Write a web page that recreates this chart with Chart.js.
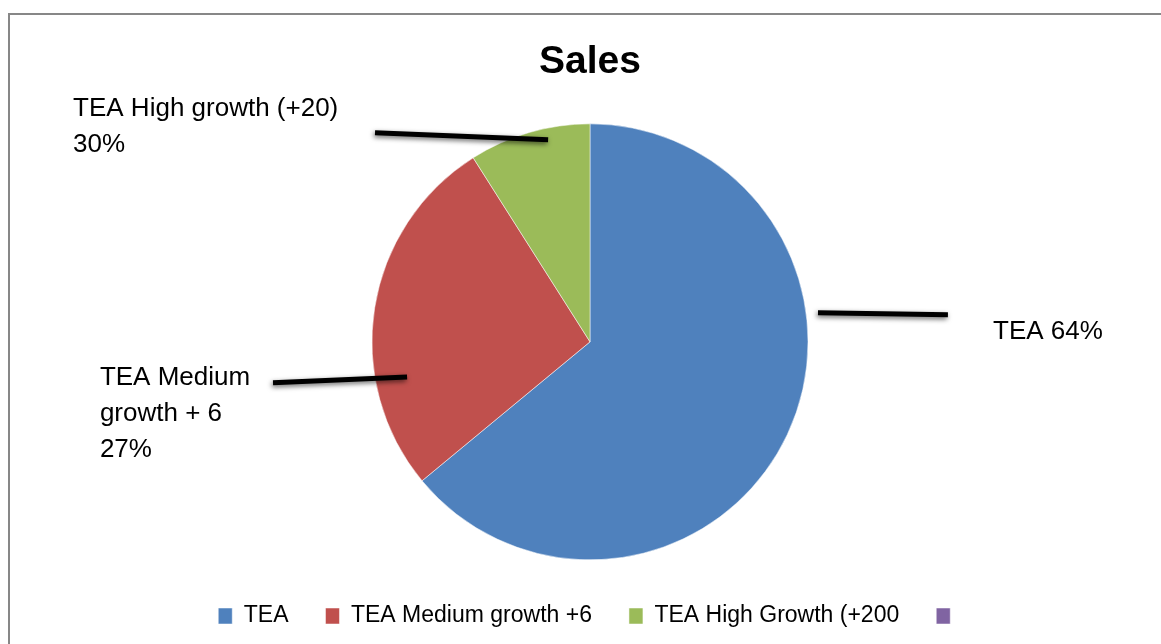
<!DOCTYPE html>
<html>
<head>
<meta charset="utf-8">
<title>Sales</title>
<script src="https://cdn.jsdelivr.net/npm/chart.js@4/dist/chart.umd.min.js"></script>
<style>
    html, body {
        margin: 0;
        padding: 0;
        background: #ffffff;
        overflow: hidden;
    }
    #wrap {
        position: relative;
        width: 1161px;
        height: 644px;
        overflow: hidden;
    }
    #frame {
        position: absolute;
        left: 8px;
        top: 13px;
        width: 1300px;
        height: 800px;
        border: 2px solid #878787;
        pointer-events: none;
    }
    canvas {
        position: absolute;
        left: 0;
        top: 0;
    }
</style>
</head>
<body>
<div id="wrap">
    <canvas id="salesChart" width="1161" height="644"></canvas>
    <div id="frame"></div>
</div>
<script>
// Chart data
const categories = ['TEA', 'TEA Medium growth +6', 'TEA High Growth (+200', ''];
const salesShare = [64, 27, 9, 0];
const sliceColors = ['#4F81BD', '#C0504D', '#9BBB59', '#8064A2'];

// Data labels as printed on the chart (text lines + percentage)
const labelLines = [
    ['TEA'],
    ['TEA Medium', 'growth + 6'],
    ['TEA High growth (+20)']
];
const labelPercents = [64, 27, 30];

const fontFamily = "'Liberation Sans', Arial, sans-serif";

// Leader lines and label placement, in units of the pie radius from its centre
const labelLayout = [
    { line: [[1.055, -0.133], [1.651, -0.124]], text: [1.858, -0.014], inline: true },
    { line: [[-1.445, 0.188], [-0.830, 0.161]], text: [-2.239, 0.197] },
    { line: [[-0.977, -0.959], [-0.183, -0.927]], text: [-2.362, -1.037] }
];

const leaderLinePlugin = {
    id: 'leaderLines',
    afterDatasetsDraw(chart) {
        const ctx = chart.ctx;
        const arc = chart.getDatasetMeta(0).data[0];
        if (!arc) return;
        const cx = arc.x - 2;
        const cy = arc.y;
        const r = arc.outerRadius;

        ctx.save();
        labelLayout.forEach((item, i) => {
            // leader line with soft shadow
            ctx.save();
            ctx.strokeStyle = '#000000';
            ctx.lineWidth = 5;
            ctx.lineCap = 'butt';
            ctx.shadowColor = 'rgba(0, 0, 0, 0.6)';
            ctx.shadowBlur = 5;
            ctx.shadowOffsetX = -1;
            ctx.shadowOffsetY = 2;
            ctx.beginPath();
            ctx.moveTo(cx + item.line[0][0] * r, cy + item.line[0][1] * r);
            ctx.lineTo(cx + item.line[1][0] * r, cy + item.line[1][1] * r);
            ctx.stroke();
            ctx.restore();

            // label text
            const lines = item.inline
                ? [labelLines[i].join(' ') + ' ' + labelPercents[i] + '%']
                : labelLines[i].concat([labelPercents[i] + '%']);
            ctx.fillStyle = '#000000';
            ctx.font = '26px ' + fontFamily;
            ctx.textAlign = 'left';
            ctx.textBaseline = 'alphabetic';
            const x = cx + item.text[0] * r;
            let y = cy + item.text[1] * r;
            lines.forEach(line => {
                ctx.fillText(line, x, y);
                y += 36;
            });
        });
        ctx.restore();
    }
};

const ctx = document.getElementById('salesChart').getContext('2d');

new Chart(ctx, {
    type: 'pie',
    data: {
        labels: categories,
        datasets: [{
            data: salesShare,
            backgroundColor: sliceColors,
            borderColor: '#ffffff',
            borderWidth: 0.5,
            radius: 218
        }]
    },
    options: {
        responsive: false,
        animation: false,
        layout: {
            padding: {
                left: 19,
                right: 0,
                top: 0,
                bottom: 6.5
            }
        },
        plugins: {
            title: {
                display: true,
                text: 'Sales',
                color: '#000000',
                font: {
                    family: fontFamily,
                    size: 39,
                    weight: 'bold'
                },
                padding: {
                    top: 39.2,
                    bottom: 30.2
                }
            },
            legend: {
                display: true,
                position: 'bottom',
                labels: {
                    color: '#000000',
                    boxWidth: 14,
                    boxHeight: 16,
                    padding: 37,
                    font: {
                        family: fontFamily,
                        size: 23
                    }
                }
            },
            tooltip: {
                enabled: false
            }
        }
    },
    plugins: [leaderLinePlugin]
});
</script>
</body>
</html>
